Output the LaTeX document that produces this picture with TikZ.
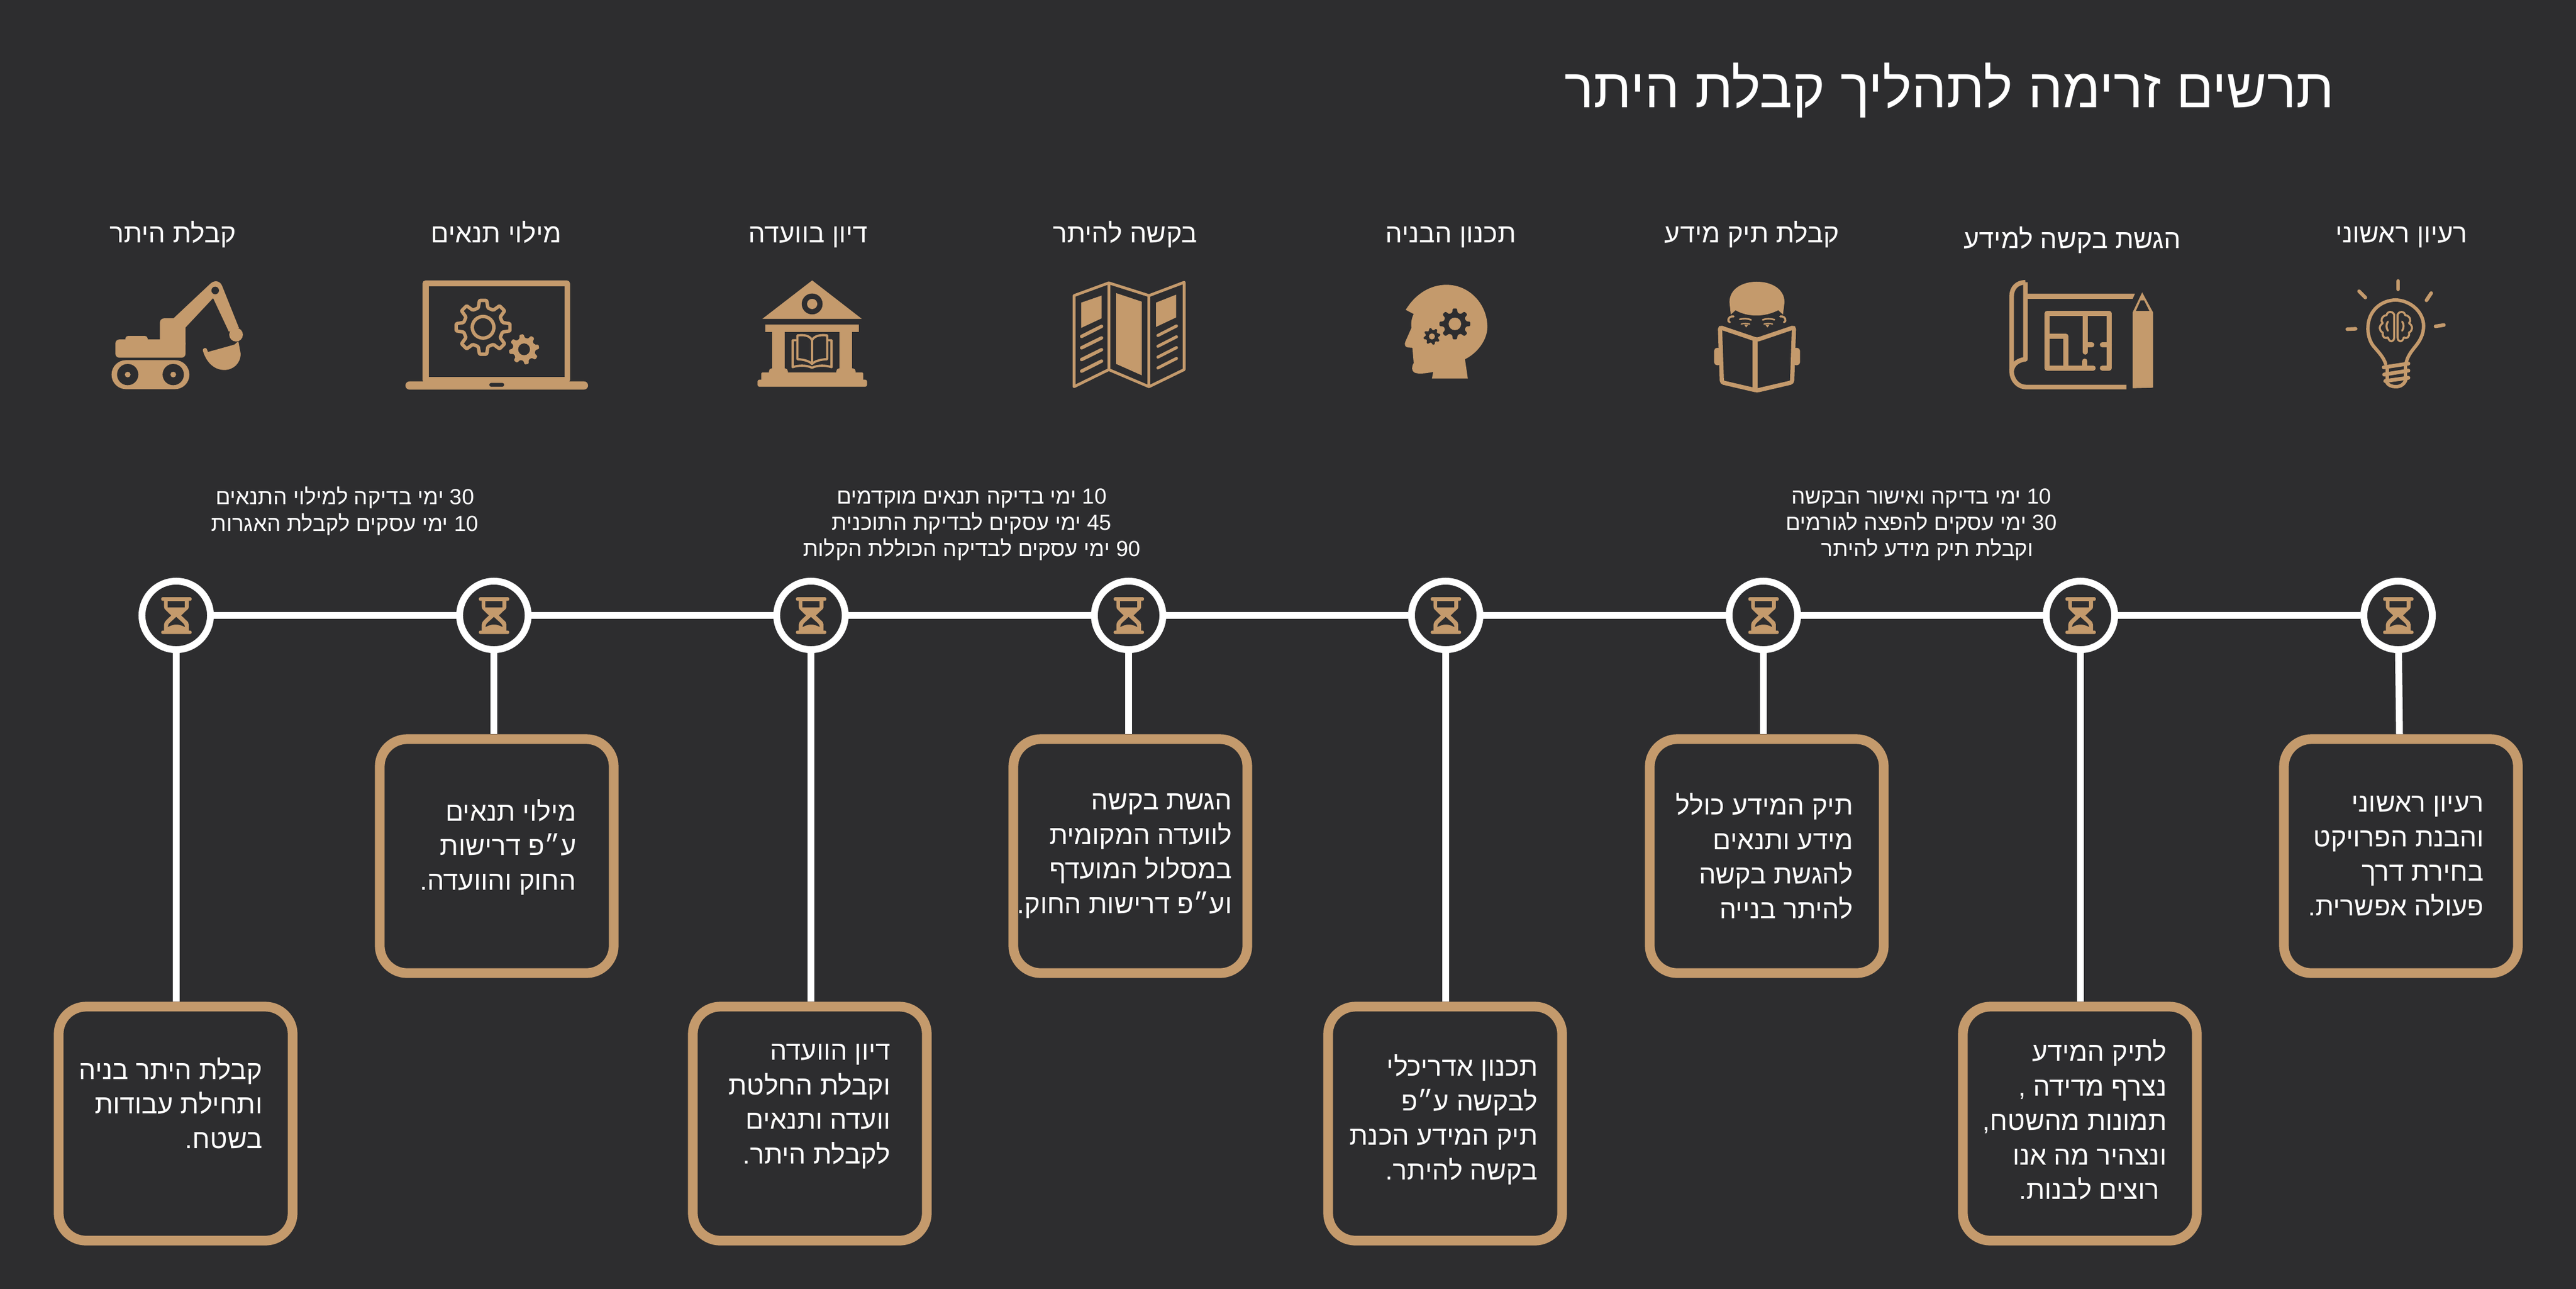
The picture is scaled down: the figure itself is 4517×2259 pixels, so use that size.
\documentclass[tikz,border=0pt]{standalone}
\usepackage{fontspec}
\setmainfont[Script=Hebrew]{Liberation Sans}
\TeXXeTstate=1
\usepackage{tikz}
\definecolor{bgdark}{HTML}{2D2D2F}
\definecolor{sand}{HTML}{C49A6C}
\newcommand{\heb}[1]{\beginR #1\endR}
\newcommand{\num}[1]{\beginL #1\endL{}}
\tikzset{
  zoomed/.style={x=0.0033333cm,y=-0.0033333cm},
  stone/.style={circle, draw=white, line width=0.12cm, minimum size=1.2cm, inner sep=0pt},
  card/.style={rectangle, draw=sand, line width=0.17cm, rounded corners=0.48cm, minimum size=4.1cm, inner sep=0pt},
  link/.style={draw=white, line width=0.12cm},
  title/.style={text=white, font=\fontsize{27.4}{33}\selectfont},
  head/.style={text=white, anchor=base, font=\fontsize{13.3}{16}\selectfont},
  days/.style={text=white, align=center, font=\fontsize{10.9}{13.1}\selectfont},
  cardtext/.style={text=white, anchor=east, align=right, inner sep=0pt, font=\fontsize{13.3}{17.2}\selectfont},
  ink/.style={draw=sand, line width=#1, line cap=round, line join=round},
  ink/.default=0.5pt
}
\newcommand{\cog}[6]{%
  \pgfmathsetmacro{\cogstep}{360/#5}
  \path[#1,shift={(#2)},rotate=#6,rounded corners=0.4pt] ({-0.31*\cogstep}:#4)
    \foreach \i in {1,...,#5} { -- ({(\i-1-0.17)*\cogstep}:#3) -- ({(\i-1+0.17)*\cogstep}:#3)
      -- ({(\i-1+0.31)*\cogstep}:#4) -- ({(\i-0.31)*\cogstep}:#4) } -- cycle;
}
\newcommand{\hourglass}[1]{%
  \begin{scope}[shift={(#1)},zoomed,shift={(-764,-297)}]
    \fill[sand,rounded corners=0.7pt] (685,201) rectangle (845,220);
    \fill[sand,rounded corners=0.7pt] (685,377) rectangle (845,395);
    \fill[sand] (700,215) -- (700,250) .. controls (700,262) and (705,265) .. (712,272) -- (738,297)
      -- (712,322) .. controls (705,330) and (700,335) .. (700,345) -- (700,380) -- (830,380) -- (830,345)
      .. controls (830,335) and (825,330) .. (816,322) -- (790,297) -- (816,272)
      .. controls (825,265) and (830,262) .. (830,250) -- (830,215) -- cycle;
    \fill[bgdark] (720,222) rectangle (810,254);
    \fill[bgdark] (764,305) -- (728,338) .. controls (722,345) and (720,350) .. (720,358)
      .. controls (735,350) and (750,345) .. (765,345) .. controls (780,345) and (795,350) .. (810,358)
      .. controls (810,350) and (806,345) .. (800,338) -- cycle;
  \end{scope}
}
\begin{document}
\begin{tikzpicture}[x=0.01cm,y=-0.01cm]
  \useasboundingbox (0,0) rectangle (4517,2259);
  \fill[bgdark] (-10,-10) rectangle (4527,2269);

  \node[title] (maintitle) at (3418,158) {\heb{תרשים זרימה לתהליך קבלת היתר}};

  \node[head] (h1) at (4211,425) {\heb{רעיון ראשוני}};
  \node[head] (h2) at (3634,435) {\heb{הגשת בקשה למידע}};
  \node[head] (h3) at (3072,425) {\heb{קבלת תיק מידע}};
  \node[head] (h4) at (2544,425) {\heb{תכנון הבניה}};
  \node[head] (h5) at (1973,425) {\heb{בקשה להיתר}};
  \node[head] (h6) at (1417,425) {\heb{דיון בוועדה}};
  \node[head] (h7) at (870,425) {\heb{מילוי תנאים}};
  \node[head] (h8) at (303,425) {\heb{קבלת היתר}};

  \node[days] (d1) at (3369,920) {\heb{\num{10} ימי בדיקה ואישור הבקשה}\\\heb{\num{30} ימי עסקים להפצה לגורמים}\\\heb{וקבלת תיק מידע להיתר\ \ }};
  \node[days] (d2) at (1704,920) {\heb{\num{10} ימי בדיקה תנאים מוקדמים}\\\heb{\num{45} ימי עסקים לבדיקת התוכנית}\\\heb{\num{90} ימי עסקים לבדיקה הכוללת הקלות}};
  \node[days] (d3) at (605,896) {\heb{\num{30} ימי בדיקה למילוי התנאים}\\\heb{\num{10} ימי עסקים לקבלת האגרות}};

  \node[stone] (n1) at (4205,1079) {};
  \node[stone] (n2) at (3648,1079) {};
  \node[stone] (n3) at (3092,1079) {};
  \node[stone] (n4) at (2535,1079) {};
  \node[stone] (n5) at (1979,1079) {};
  \node[stone] (n6) at (1422,1079) {};
  \node[stone] (n7) at (866,1079) {};
  \node[stone] (n8) at (309,1079) {};

  \node[card] (b1) at (4210,1501) {};
  \node[card] (b2) at (3647,1970) {};
  \node[card] (b3) at (3098,1501) {};
  \node[card] (b4) at (2534,1970) {};
  \node[card] (b5) at (1982,1501) {};
  \node[card] (b6) at (1420,1970) {};
  \node[card] (b7) at (871,1501) {};
  \node[card] (b8) at (308,1970) {};

  \node[cardtext] (t1) at (4356,1501) {\heb{רעיון ראשוני}\\\heb{והבנת הפרויקט}\\\heb{בחירת דרך}\\\heb{פעולה אפשרית.}};
  \node[cardtext] (t2) at (3800,1963) {\heb{לתיק המידע}\\\heb{נצרף מדידה ,}\\\heb{תמונות מהשטח,}\\\heb{ונצהיר מה אנו}\\\heb{\ רוצים לבנות.}};
  \node[cardtext] (t3) at (3250,1501) {\heb{תיק המידע כולל}\\\heb{מידע ותנאים}\\\heb{להגשת בקשה}\\\heb{להיתר בנייה}};
  \node[cardtext] (t4) at (2697,1963) {\heb{תכנון אדריכלי}\\\heb{לבקשה ע״פ}\\\heb{תיק המידע הכנת}\\\heb{בקשה להיתר.}};
  \node[cardtext] (t5) at (2161,1501) {\heb{הגשת בקשה}\\\heb{לוועדה המקומית}\\\heb{במסלול המועדף}\\\heb{וע״פ דרישות החוק.}};
  \node[cardtext] (t6) at (1562,1940) {\heb{דיון הוועדה}\\\heb{וקבלת החלטת}\\\heb{וועדה ותנאים}\\\heb{לקבלת היתר.}};
  \node[cardtext] (t7) at (1011,1485) {\heb{מילוי תנאים}\\\heb{ע״פ דרישות}\\\heb{החוק והוועדה.}};
  \node[cardtext] (t8) at (461,1934) {\heb{קבלת היתר בניה}\\\heb{ותחילת עבודות}\\\heb{בשטח.}};

  \draw[link] (n1) -- (n2);
  \draw[link] (n2) -- (n3);
  \draw[link] (n3) -- (n4);
  \draw[link] (n4) -- (n5);
  \draw[link] (n5) -- (n6);
  \draw[link] (n6) -- (n7);
  \draw[link] (n7) -- (n8);

  \draw[link] (n1) -- (b1);
  \draw[link] (n2) -- (n2 |- b2.north);
  \draw[link] (n3) -- (n3 |- b3.north);
  \draw[link] (n4) -- (n4 |- b4.north);
  \draw[link] (n5) -- (n5 |- b5.north);
  \draw[link] (n6) -- (n6 |- b6.north);
  \draw[link] (n7) -- (n7 |- b7.north);
  \draw[link] (n8) -- (n8 |- b8.north);

  \hourglass{n1}
  \hourglass{n2}
  \hourglass{n3}
  \hourglass{n4}
  \hourglass{n5}
  \hourglass{n6}
  \hourglass{n7}
  \hourglass{n8}

  % bulb
  \begin{scope}[shift={(4080,470)},zoomed]
    \draw[ink=1.7pt] (310,505) .. controls (300,470) and (270,440) .. (245,410) .. controls (225,385) and (215,345) .. (217,310)
      .. controls (220,225) and (285,170) .. (362,168) .. controls (440,170) and (510,230) .. (510,305)
      .. controls (510,350) and (490,385) .. (465,415) .. controls (445,440) and (425,465) .. (418,500);
    \draw[ink=1.9pt] (300,523) -- (430,503);
    \draw[ink=1.9pt] (302,561) -- (430,540);
    \draw[ink=1.9pt] (308,595) -- (430,578);
    \draw[ink=1.7pt] (318,520) -- (318,590) (415,505) -- (415,585);
    \draw[ink=1.7pt] (312,592) .. controls (320,620) and (345,625) .. (365,625) .. controls (390,625) and (412,610) .. (418,582);
    \draw[ink=1.8pt] (376,68) -- (376,112);
    \draw[ink=1.8pt] (170,122) -- (203,155);
    \draw[ink=1.8pt] (550,132) -- (525,170);
    \draw[ink=1.8pt] (108,322) -- (152,320);
    \draw[ink=1.8pt] (573,307) -- (617,300);
    \draw[ink=1pt] (355,245) .. controls (345,225) and (320,225) .. (315,248) .. controls (290,250) and (280,280) .. (295,290)
      .. controls (272,305) and (275,330) .. (295,340) .. controls (290,365) and (310,375) .. (322,365)
      .. controls (330,395) and (355,390) .. (355,365) -- cycle;
    \draw[ink=1pt] (373,245) .. controls (383,225) and (408,225) .. (413,248) .. controls (438,250) and (448,280) .. (433,290)
      .. controls (456,305) and (453,330) .. (433,340) .. controls (438,365) and (418,375) .. (406,365)
      .. controls (398,395) and (373,390) .. (373,365) -- cycle;
    \draw[ink=1pt] (322,282) .. controls (312,295) and (312,315) .. (322,330);
    \draw[ink=1pt] (397,282) .. controls (407,295) and (407,315) .. (397,330);
  \end{scope}

  % blueprint
  \begin{scope}[shift={(3500,470)},zoomed]
    \draw[draw=sand,line width=2.3pt,line join=round] (155,75) .. controls (110,75) and (82,105) .. (82,150) -- (82,540)
      .. controls (82,590) and (115,627) .. (160,627) -- (687,627);
    \draw[draw=sand,line width=2.3pt,line join=round] (155,75) -- (155,480) .. controls (120,485) and (90,500) .. (82,540);
    \fill[sand] (160,135) -- (732,135) -- (720,162) -- (160,162) -- cycle;
    \draw[ink=2.5pt] (512,527) -- (269,527) -- (269,240) -- (597,240) -- (597,527) -- (560,527);
    \draw[ink=2.5pt] (269,360) -- (368,360) -- (368,527);
    \draw[ink=2.5pt] (470,240) -- (470,443);
    \draw[ink=2.5pt] (470,403) -- (505,403);
    \draw[ink=2.5pt] (597,403) -- (560,403);
    \draw[ink=2.5pt] (468,490) -- (468,527);
    \fill[sand] (720,633) -- (720,233) -- (770,128) -- (827,233) -- (827,630) -- cycle;
    \fill[bgdark] (737,226) -- (762,170) -- (780,170) -- (808,226) -- cycle;
  \end{scope}

  % reader
  \begin{scope}[shift={(2980,470)},zoomed]
    \fill[sand] (158,180) .. controls (158,110) and (225,72) .. (302,72) .. controls (380,72) and (448,110) .. (448,180)
      -- (440,245) -- (415,222) .. controls (380,240) and (340,250) .. (300,250) .. controls (260,250) and (220,240) .. (190,222)
      -- (165,245) -- cycle;
    \draw[ink=1pt] (180,255) .. controls (150,250) and (145,285) .. (160,285);
    \draw[ink=1pt] (425,255) .. controls (455,250) and (460,285) .. (445,285);
    \draw[ink=0.8pt] (212,270) .. controls (230,265) and (255,265) .. (272,273);
    \draw[ink=0.8pt] (333,273) .. controls (350,265) and (375,265) .. (395,272);
    \draw[ink=0.6pt] (220,295) .. controls (235,290) and (250,290) .. (265,295);
    \draw[ink=0.6pt] (340,295) .. controls (355,290) and (370,290) .. (385,295);
    \fill[sand] (235,297) -- (258,297) -- (246,313) -- cycle;
    \fill[sand] (346,297) -- (370,297) -- (358,313) -- cycle;
    \fill[sand,rounded corners=1.5pt] (77,420) rectangle (115,512);
    \fill[sand,rounded corners=1.5pt] (492,420) rectangle (530,512);
    \draw[draw=sand,fill=bgdark,line width=2.1pt,rounded corners=1pt] (108,312) -- (118,602) -- (303,645) -- (488,602) -- (498,312) -- (303,378) -- cycle;
    \draw[draw=sand,line width=2.5pt] (293,378) -- (293,640);
  \end{scope}

  % head
  \begin{scope}[shift={(2430,480)},zoomed]
    \fill[sand] (105,190) .. controls (160,100) and (240,58) .. (320,58) .. controls (440,58) and (535,160) .. (535,280)
      .. controls (535,350) and (480,420) .. (417,450) -- (432,552) -- (243,552) -- (250,517)
      .. controls (210,525) and (170,530) .. (150,520) .. controls (135,510) and (135,490) .. (147,470)
      -- (140,390) -- (115,388) .. controls (100,385) and (98,372) .. (102,360) -- (135,285)
      .. controls (132,260) and (135,235) .. (147,212) -- cycle;
    \cog{fill=bgdark}{364,264}{82}{60}{8}{0}
    \fill[sand] (364,264) circle (33);
    \cog{fill=bgdark}{243,330}{45}{33}{8}{12}
    \fill[sand] (243,330) circle (16);
  \end{scope}

  % brochure
  \begin{scope}[shift={(1860,470)},zoomed]
    \draw[draw=sand,line width=1.4pt,line join=round] (70,145) -- (253,78) -- (465,145) -- (650,75) -- (650,535) -- (465,625) -- (253,535) -- (70,625) -- cycle;
    \draw[draw=sand,line width=1.4pt] (253,78) -- (253,535);
    \draw[draw=sand,line width=1.4pt] (465,145) -- (465,625);
    \fill[sand] (108,182) -- (215,145) -- (215,265) -- (108,315) -- cycle;
    \fill[sand] (292,132) -- (427,177) -- (427,565) -- (292,505) -- cycle;
    \fill[sand] (502,182) -- (608,140) -- (608,260) -- (502,310) -- cycle;
    \draw[ink=1.7pt] (110,360) -- (215,307);
    \draw[ink=1.7pt] (110,420) -- (215,368);
    \draw[ink=1.7pt] (110,482) -- (215,430);
    \draw[ink=1.7pt] (110,543) -- (215,490);
    \draw[ink=1.5pt] (512,355) -- (610,305);
    \draw[ink=1.5pt] (512,412) -- (610,362);
    \draw[ink=1.5pt] (512,469) -- (610,419);
    \draw[ink=1.5pt] (512,526) -- (610,476);
  \end{scope}

  % temple
  \begin{scope}[shift={(1300,470)},zoomed]
    \fill[sand] (373,65) -- (635,268) -- (110,268) -- cycle;
    \fill[bgdark] (373,189) circle (55);
    \fill[sand] (373,189) circle (27);
    \fill[sand] (127,298) rectangle (618,337);
    \fill[sand] (163,330) rectangle (228,535);
    \fill[sand] (518,330) rectangle (583,535);
    \fill[sand,rounded corners=1.5pt] (145,528) rectangle (245,565);
    \fill[sand,rounded corners=1.5pt] (500,528) rectangle (602,565);
    \fill[sand,rounded corners=0.6pt] (105,550) rectangle (642,595);
    \fill[sand,rounded corners=0.9pt] (85,588) rectangle (662,625);
    \draw[ink=1.1pt] (288,380) -- (270,380) -- (270,522) .. controls (300,512) and (340,510) .. (372,525)
      .. controls (405,510) and (445,512) .. (475,522) -- (475,380) -- (458,380);
    \draw[ink=1.1pt] (295,355) .. controls (330,350) and (360,355) .. (372,380) .. controls (385,355) and (420,350) .. (452,355)
      -- (452,480) .. controls (410,482) and (385,492) .. (372,505) .. controls (360,492) and (335,482) .. (295,480) -- cycle;
    \draw[ink=1.1pt] (372,380) -- (372,505);
  \end{scope}

  % laptop
  \begin{scope}[shift={(690,470)},zoomed]
    \fill[sand,rounded corners=1.5pt] (153,65) rectangle (930,605);
    \fill[bgdark] (185,95) rectangle (902,575);
    \fill[sand,rounded corners=2pt] (63,597) rectangle (1025,640);
    \fill[bgdark,rounded corners=0.9pt] (505,605) rectangle (583,625);
    \cog{draw=sand,line width=1.7pt,line join=round}{472,312}{143}{105}{8}{0}
    \draw[draw=sand,line width=1.7pt] (472,312) circle (57);
    \cog{fill=sand}{688,428}{80}{60}{8}{10}
    \fill[bgdark] (688,428) circle (31);
  \end{scope}

  % excavator
  \begin{scope}[shift={(170,470)},zoomed]
    \fill[sand,rounded corners=2pt] (97,376) rectangle (467,472);
    \fill[sand,rounded corners=1.2pt] (150,358) rectangle (267,400);
    \fill[sand,rounded corners=2pt] (332,265) rectangle (467,420);
    \fill[sand] (400,268) -- (600,80) .. controls (625,60) and (650,70) .. (660,95) -- (748,315) -- (695,335)
      -- (612,158) -- (460,320) -- cycle;
    \fill[bgdark] (623,118) circle (20);
    \fill[sand] (733,351) circle (36);
    \fill[sand] (725,403) -- (585,442) -- (578,425) .. controls (570,415) and (555,425) .. (558,435)
      .. controls (580,510) and (630,537) .. (670,537) .. controls (720,537) and (758,500) .. (757,450) -- (745,385) -- cycle;
    \fill[sand,rounded corners=7.2pt] (77,485) rectangle (487,638);
    \fill[bgdark] (162,561) circle (56);
    \fill[bgdark] (402,561) circle (56);
    \fill[sand] (162,561) circle (15);
    \fill[sand] (402,561) circle (15);
  \end{scope}
\end{tikzpicture}
\end{document}
